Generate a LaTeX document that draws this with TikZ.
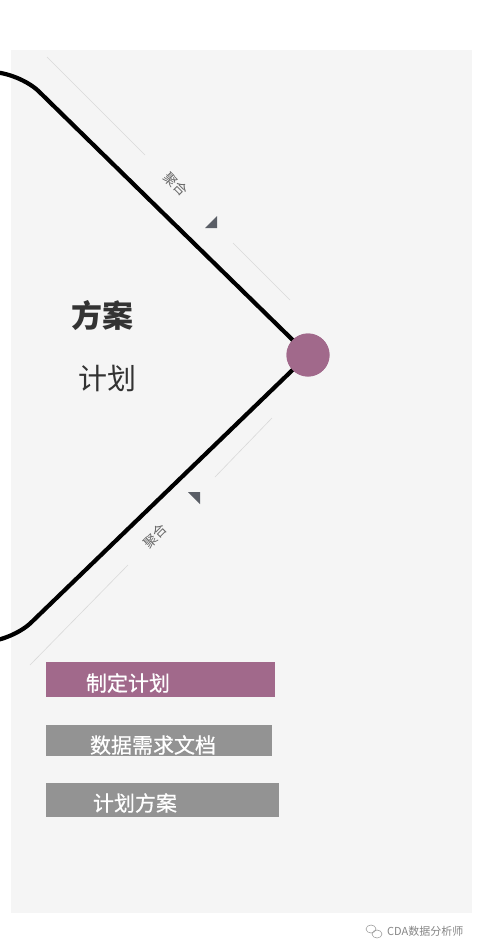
\documentclass[tikz,border=0pt]{standalone}
\usepackage{fontspec}
\newfontfamily\cjk{Noto Sans CJK SC}
\newfontfamily\cjkmed{Noto Sans CJK SC}[FakeBold=0.7]
\definecolor{bggray}{HTML}{F5F5F5}
\definecolor{rulegray}{HTML}{D9D9D9}
\definecolor{labelgray}{HTML}{666666}
\definecolor{arrowgray}{HTML}{5A5E66}
\definecolor{plum}{HTML}{A1698B}
\definecolor{tabgray}{HTML}{939393}
\definecolor{titlegray}{HTML}{333333}
\begin{document}
\begin{tikzpicture}[x=1pt,y=-1pt,
  mainline/.style={line width=4.2pt, line join=round, rounded corners=28pt},
  thinrule/.style={draw=rulegray, line width=0.6pt},
  edgelabel/.style={font=\cjk\fontsize{13.5}{14}\selectfont, text=labelgray, inner sep=0pt},
  tri/.style={fill=arrowgray},
  tab/.style={anchor=north west, inner sep=0pt, draw=none},
  tabtext/.style={font=\cjkmed\fontsize{21}{22}\selectfont, text=white, inner sep=0pt},
  hubstyle/.style={circle, fill=plum, minimum size=43pt, inner sep=0pt},
]
\useasboundingbox (0,0) rectangle (478,950);
\fill[bggray] (11,50) rectangle (472,913);

% hub
\node[hubstyle] (hub) at (308,355) {};
\coordinate (topend) at (-12,72);
\coordinate (topcorner) at (19,72);
\coordinate (botend) at (-12,642);
\coordinate (botcorner) at (11,642);

% thin guide rules
\coordinate (ua) at (47,57);
\coordinate (ub) at (145,155);
\coordinate (uc) at (233,243);
\coordinate (ud) at (290,300);
\draw[thinrule] (ua) -- (ub);
\draw[thinrule] (uc) -- (ud);
\coordinate (la) at (30,665);
\coordinate (lb) at (128,565);
\coordinate (lc) at (215,477);
\coordinate (ld) at (272,418);
\draw[thinrule] (la) -- (lb);
\draw[thinrule] (lc) -- (ld);

% main chevron
\draw[mainline] (topend) -- (topcorner) -- ([rounded corners=0pt]hub.center);
\draw[mainline] (botend) -- (botcorner) -- ([rounded corners=0pt]hub.center);
\node[hubstyle] at (hub) {};

% labels and arrow marks
\node[edgelabel, rotate=-45] (lab1) at (176,184) {聚合};
\node[edgelabel, rotate=45] (lab2) at (155,536) {聚合};
\fill[tri] (217,216) -- (217,228) -- (205,228) -- cycle;
\fill[tri] (188,492) -- (200,492) -- (200,504) -- cycle;

% titles
\node[font=\cjk\bfseries\fontsize{31}{32}\selectfont, text=titlegray, inner sep=0pt] (title1) at (102,316) {方案};
\node[font=\cjk\fontsize{29}{30}\selectfont, text=titlegray, inner sep=0pt] (title2) at (107,378) {计划};

% tabs
\node[tab, fill=plum, minimum width=229pt, minimum height=35pt] (b1) at (46,662) {};
\node[tabtext] (t1) at (128,683) {制定计划};
\node[tab, fill=tabgray, minimum width=226pt, minimum height=31pt] (b2) at (46,725) {};
\node[tabtext] (t2) at (153,745) {数据需求文档};
\node[tab, fill=tabgray, minimum width=233pt, minimum height=34pt] (b3) at (46,783) {};
\node[tabtext] (t3) at (135,803) {计划方案};

% watermark
\node[font=\cjk\fontsize{11}{12}\selectfont, text=labelgray!80, inner sep=0pt, anchor=west] (wm) at (387,931) {CDA数据分析师};
\draw[labelgray!70, line width=0.5pt] (371,929) ellipse (5pt and 4pt);
\draw[labelgray!70, line width=0.5pt] (377,934) ellipse (5pt and 4pt);
\end{tikzpicture}
\end{document}
